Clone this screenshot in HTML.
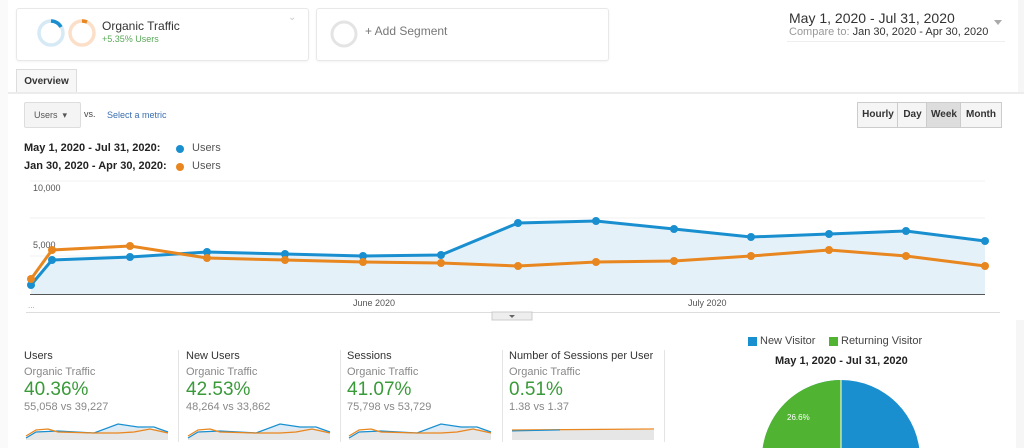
<!DOCTYPE html>
<html style="overflow:hidden;height:448px"><head><meta charset="utf-8"><style>
body{margin:0;width:1024px;height:448px;overflow:hidden;background:#fff;font-family:"Liberation Sans",sans-serif;position:relative}
.a{position:absolute;white-space:nowrap}
.box{position:absolute;border:1px solid #e8e8e8;border-radius:3px;box-shadow:0 1px 2px rgba(0,0,0,.05)}
.btn{position:absolute;top:102px;height:24px;border:1px solid #ccc;background:#f5f5f5;font-size:10px;font-weight:bold;color:#333;text-align:center;line-height:24px}
.m{position:absolute;top:350px;height:70px;overflow:hidden;font-size:11px;color:#333}
.m .s{color:#888;margin-top:4px}
.m .p{color:#3a9a3a;font-size:19px;margin-top:1px}
</style></head><body>
<div class="a" style="left:0;top:0;width:8px;height:448px;background:#fafafa"></div>
<div class="box" style="left:16px;top:8px;width:291px;height:51px"></div>
<svg class="a" style="left:36px;top:18px" width="62" height="32"><circle cx="15" cy="15" r="12" fill="none" stroke="#d6eaf5" stroke-width="3.5"/><path d="M15 3 A12 12 0 0 1 25 9" fill="none" stroke="#1a8fcf" stroke-width="3.5"/><circle cx="46" cy="15" r="12" fill="none" stroke="#fbdfc8" stroke-width="3.5"/><path d="M46 3 A12 12 0 0 1 51 4" fill="none" stroke="#e8861f" stroke-width="3.5"/></svg>
<div class="a" style="left:102px;top:19px;font-size:12px;color:#333">Organic Traffic</div>
<div class="a" style="left:102px;top:34px;font-size:9px;color:#5aa85a">+5.35% Users</div>
<div class="a" style="left:288px;top:12px;font-size:10px;color:#ccc">&#8964;</div>
<div class="box" style="left:316px;top:8px;width:291px;height:51px"></div>
<svg class="a" style="left:329px;top:19px" width="30" height="30"><circle cx="15" cy="15" r="12" fill="none" stroke="#e4e4e4" stroke-width="3"/></svg>
<div class="a" style="left:365px;top:24px;font-size:12px;color:#777">+ Add Segment</div>
<div class="a" style="left:789px;top:10px;font-size:14px;color:#333">May 1, 2020 - Jul 31, 2020</div>
<div class="a" style="left:789px;top:26px;font-size:11px;color:#999">Compare to: <span style="color:#333">Jan 30, 2020 - Apr 30, 2020</span></div>
<div class="a" style="left:994px;top:20px;width:0;height:0;border:4px solid transparent;border-top:5px solid #aaa"></div>
<div class="a" style="left:787px;top:41px;width:218px;height:1px;background:#eee"></div>
<div class="a" style="left:1018px;top:0;width:6px;height:92px;background:#f6f6f6"></div>
<div class="a" style="left:16px;top:69px;width:59px;height:24px;border:1px solid #ddd;border-bottom:none;background:#f7f7f7;font-size:10px;font-weight:bold;color:#333;text-align:center;line-height:24px">Overview</div>
<div class="a" style="left:8px;top:92px;width:1016px;height:2px;background:#ececec"></div>
<div class="a" style="left:24px;top:102px;width:55px;height:24px;border:1px solid #ddd;border-radius:2px;background:#f4f4f4;font-size:9px;color:#555;line-height:24px;text-indent:9px">Users &nbsp;&#9662;</div>
<div class="a" style="left:84px;top:109px;font-size:9px;color:#444">vs.</div>
<div class="a" style="left:107px;top:110px;font-size:9px;color:#3b6fb0">Select a metric</div>
<div class="btn" style="left:857px;width:40px">Hourly</div>
<div class="btn" style="left:897px;width:29px">Day</div>
<div class="btn" style="left:926px;width:34px;background:#ddd">Week</div>
<div class="btn" style="left:960px;width:40px">Month</div>
<div class="a" style="left:24px;top:142px;font-size:11px;font-weight:bold;color:#222">May 1, 2020 - Jul 31, 2020:</div>
<div class="a" style="left:24px;top:160px;font-size:11px;font-weight:bold;color:#222">Jan 30, 2020 - Apr 30, 2020:</div>
<div class="a" style="left:176px;top:145px;width:8px;height:8px;border-radius:50%;background:#1a8fcf"></div>
<div class="a" style="left:176px;top:163px;width:8px;height:8px;border-radius:50%;background:#e8861f"></div>
<div class="a" style="left:192px;top:142px;font-size:11px;color:#555">Users</div>
<div class="a" style="left:192px;top:160px;font-size:11px;color:#555">Users</div>
<svg class="a" style="left:0;top:175px" width="1024" height="150" viewBox="0 175 1024 150">
<line x1="30" y1="181" x2="985" y2="181" stroke="#f2f2f2"/>
<line x1="30" y1="218" x2="985" y2="218" stroke="#f2f2f2"/>
<line x1="30" y1="256" x2="985" y2="256" stroke="#f2f2f2"/>
<text x="33" y="191" font-size="9" fill="#555">10,000</text>
<text x="33" y="248" font-size="9" fill="#555">5,000</text>
<polygon fill="#e5f1f9" points="31,294 31,285 52,260 130,257 207,252 285,254 363,256 441,255 518,223 596,221 674,229 751,237 829,234 906,231 985,241 985,294"/>
<line x1="30" y1="294.5" x2="985" y2="294.5" stroke="#555"/>
<polyline fill="none" stroke="#1a8fcf" stroke-width="3" points="31,285 52,260 130,257 207,252 285,254 363,256 441,255 518,223 596,221 674,229 751,237 829,234 906,231 985,241"/>
<polyline fill="none" stroke="#e8861f" stroke-width="3" points="31,279 52,250 130,246 207,258 285,260 363,262 441,263 518,266 596,262 674,261 751,256 829,250 906,256 985,266"/>
<g fill="#1a8fcf"><circle cx="31" cy="285" r="4"/><circle cx="52" cy="260" r="4"/><circle cx="130" cy="257" r="4"/><circle cx="207" cy="252" r="4"/><circle cx="285" cy="254" r="4"/><circle cx="363" cy="256" r="4"/><circle cx="441" cy="255" r="4"/><circle cx="518" cy="223" r="4"/><circle cx="596" cy="221" r="4"/><circle cx="674" cy="229" r="4"/><circle cx="751" cy="237" r="4"/><circle cx="829" cy="234" r="4"/><circle cx="906" cy="231" r="4"/><circle cx="985" cy="241" r="4"/></g>
<g fill="#e8861f"><circle cx="31" cy="279" r="4"/><circle cx="52" cy="250" r="4"/><circle cx="130" cy="246" r="4"/><circle cx="207" cy="258" r="4"/><circle cx="285" cy="260" r="4"/><circle cx="363" cy="262" r="4"/><circle cx="441" cy="263" r="4"/><circle cx="518" cy="266" r="4"/><circle cx="596" cy="262" r="4"/><circle cx="674" cy="261" r="4"/><circle cx="751" cy="256" r="4"/><circle cx="829" cy="250" r="4"/><circle cx="906" cy="256" r="4"/><circle cx="985" cy="266" r="4"/></g>
<text x="28" y="308" font-size="8" fill="#999">...</text>
<text x="353" y="306" font-size="9" fill="#555">June 2020</text>
<text x="688" y="306" font-size="9" fill="#555">July 2020</text>
<line x1="26" y1="312.5" x2="1000" y2="312.5" stroke="#ddd"/>
<rect x="492" y="312" width="40" height="8" fill="#eee" stroke="#ccc"/>
<polygon points="509,315 515,315 512,318" fill="#666"/>
</svg>
<div class="m" style="left:24px"><div>Users</div><div class="s">Organic Traffic</div><div class="p">40.36%</div><div class="s" style="margin-top:0">55,058 vs 39,227</div></div>
<div class="m" style="left:186px"><div>New Users</div><div class="s">Organic Traffic</div><div class="p">42.53%</div><div class="s" style="margin-top:0">48,264 vs 33,862</div></div>
<div class="m" style="left:347px"><div>Sessions</div><div class="s">Organic Traffic</div><div class="p">41.07%</div><div class="s" style="margin-top:0">75,798 vs 53,729</div></div>
<div class="m" style="left:509px"><div>Number of Sessions per User</div><div class="s">Organic Traffic</div><div class="p">0.51%</div><div class="s" style="margin-top:0">1.38 vs 1.37</div></div>
<div class="a" style="left:178px;top:350px;width:1px;height:92px;background:#e4e4e4"></div>
<div class="a" style="left:340px;top:350px;width:1px;height:92px;background:#e4e4e4"></div>
<div class="a" style="left:502px;top:350px;width:1px;height:92px;background:#e4e4e4"></div>
<div class="a" style="left:664px;top:350px;width:1px;height:92px;background:#e4e4e4"></div>
<svg class="a" style="left:0;top:418px" width="680" height="30">
<g id="sp">
<polygon fill="#e6e6e6" points="26,22 26,20 36,14 58,13 94,15 118,6 138,9 164,12 168,14 168,22"/>
<polygon fill="#dcebf5" points="94,15 118,6 138,9 164,12 168,14 150,10 118,12"/>
<polyline fill="none" stroke="#1a8fcf" stroke-width="1.3" points="26,20 36,14 58,13 94,15 118,6 138,9 154,9 168,14"/>
<polyline fill="none" stroke="#e8861f" stroke-width="1.3" points="26,18 36,12 48,11 58,14 94,15 118,15 134,14 150,11 168,15"/>
</g>
<use href="#sp" x="162"/><use href="#sp" x="323"/>
<rect x="512" y="12" width="142" height="10" fill="#e6e6e6"/>
<polyline fill="none" stroke="#e8861f" stroke-width="1.3" points="512,12 654,11"/>
<polyline fill="none" stroke="#1a8fcf" stroke-width="1" points="512,13 560,12"/>
</svg>
<div class="a" style="left:748px;top:337px;width:9px;height:9px;background:#1a8fcf"></div>
<div class="a" style="left:760px;top:335px;font-size:11px;color:#444">New Visitor</div>
<div class="a" style="left:829px;top:337px;width:9px;height:9px;background:#50b432"></div>
<div class="a" style="left:841px;top:335px;font-size:11px;color:#444">Returning Visitor</div>
<div class="a" style="left:775px;top:355px;font-size:11px;font-weight:bold;color:#222">May 1, 2020 - Jul 31, 2020</div>
<svg class="a" style="left:740px;top:370px" width="200" height="78">
<circle cx="101" cy="89" r="79" fill="#1a8fcf"/>
<path d="M101 89 L101 10 A79 79 0 0 0 24 107 Z" fill="#50b432"/>
<line x1="101" y1="10" x2="101" y2="89" stroke="#fff"/>
<text x="47" y="50" font-size="8" fill="#fff">26.6%</text>
</svg>
<div class="a" style="left:1016px;top:320px;width:8px;height:128px;background:#f6f6f6"></div>
</body></html>
